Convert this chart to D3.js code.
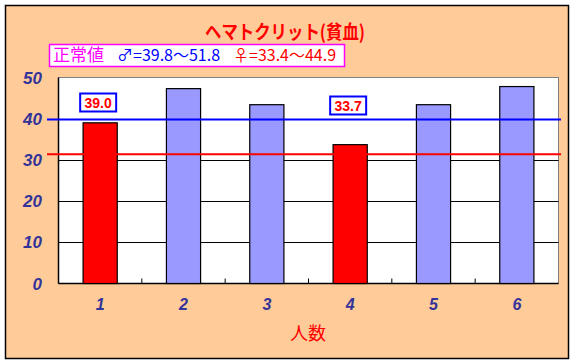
<!DOCTYPE html>
<html>
<head>
<meta charset="utf-8">
<script src="https://cdn.jsdelivr.net/npm/d3@7"></script>
<style>
  body { margin: 0; background: #fff; }
  svg { display: block; }
</style>
</head>
<body>
<div class="main"></div>
<script>
const w = 574, h = 364;

// data
const categories = ['1', '2', '3', '4', '5', '6'];
const values = [39.0, 47.3, 43.4, 33.7, 43.4, 47.8];
const sex = ['F', 'M', 'M', 'F', 'M', 'M'];
const valueLabels = ['39.0', '', '', '33.7', '', ''];
const yTicks = [0, 10, 20, 30, 40, 50];
const refValues = [39.8, 31.4];
const refColors = ['#0000ff', '#ff0000'];

const svg = d3.select('.main')
            .append('svg')
            .attr('width', w)
            .attr('height', h)

// background frame
svg.append('rect')
    .attr('x', 5.5).attr('y', 5.5)
    .attr('width', 563).attr('height', 353)
    .attr('fill', '#ffcc99')
    .attr('stroke', '#000')
    .attr('stroke-width', 1.5)

const pLeft = 58.5, pRight = 558.5, pTop = 77.5, pBottom = 283.5;

const x = d3.scaleBand()
            .domain(categories)
            .range([pLeft, pRight])
            .paddingInner(0.59)
            .paddingOuter(0.295)

const y = d3.scaleLinear()
            .domain([0, 50])
            .range([pBottom, pTop])

// plot area
svg.append('rect')
    .attr('x', pLeft).attr('y', pTop)
    .attr('width', pRight - pLeft).attr('height', pBottom - pTop)
    .attr('fill', '#fff')
    .attr('stroke', '#808080')

// gridlines
svg.append('g')
    .selectAll('line')
    .data(yTicks.filter(d => d > 0 && d < 50))
    .enter()
    .append('line')
    .attr('x1', pLeft).attr('x2', pRight)
    .attr('y1', d => Math.round(y(d)) + 0.5)
    .attr('y2', d => Math.round(y(d)) + 0.5)
    .attr('stroke', '#000')

// axis lines left and bottom
svg.append('line')
    .attr('x1', pLeft).attr('x2', pLeft)
    .attr('y1', pTop).attr('y2', pBottom)
    .attr('stroke', '#000').attr('stroke-width', 1.5)
svg.append('line')
    .attr('x1', pLeft).attr('x2', pRight)
    .attr('y1', pBottom).attr('y2', pBottom)
    .attr('stroke', '#000').attr('stroke-width', 1.5)

// ticks between categories
const step = x.step();
svg.append('g')
    .selectAll('line')
    .data(d3.range(1, categories.length))
    .enter()
    .append('line')
    .attr('x1', i => pLeft + i * step)
    .attr('x2', i => pLeft + i * step)
    .attr('y1', pBottom).attr('y2', pBottom - 5)
    .attr('stroke', '#000')

// bars
svg.append('g')
    .selectAll('rect')
    .data(values)
    .enter()
    .append('rect')
    .attr('x', (d, i) => x(categories[i]))
    .attr('y', d => y(d))
    .attr('width', x.bandwidth())
    .attr('height', d => pBottom - y(d))
    .attr('fill', (d, i) => sex[i] == 'F' ? '#ff0000' : '#9999ff')
    .attr('stroke', '#000')
    .attr('stroke-width', 1.2)

// reference lines
svg.append('g')
    .selectAll('line')
    .data(refValues)
    .enter()
    .append('line')
    .attr('x1', 47).attr('x2', 561)
    .attr('y1', d => y(d)).attr('y2', d => y(d))
    .attr('stroke', (d, i) => refColors[i])
    .attr('stroke-width', 2)

// value label boxes
const lab = svg.append('g')
            .selectAll('g')
            .data(valueLabels.map((t, i) => ({t, i})).filter(d => d.t))
            .enter()
            .append('g')
            .attr('transform', d => `translate(${x(categories[d.i]) + x.bandwidth() / 2 - 2}, ${d.i == 0 ? 102.5 : 105.5})`)
lab.append('rect')
    .attr('x', -18).attr('y', -9)
    .attr('width', 36).attr('height', 18)
    .attr('fill', '#fff')
    .attr('stroke', '#0000ff')
    .attr('stroke-width', 2)
lab.append('text')
    .attr('text-anchor', 'middle')
    .attr('y', 5)
    .attr('fill', '#ff0000')
    .style('font', 'bold 14px "Liberation Sans", sans-serif')
    .text(d => d.t)

// y labels
svg.append('g')
    .selectAll('text')
    .data(yTicks)
    .enter()
    .append('text')
    .attr('x', 42)
    .attr('y', d => y(d) + 6)
    .attr('text-anchor', 'end')
    .attr('fill', '#333399')
    .style('font', 'italic bold 17px "Liberation Sans", sans-serif')
    .text(d => d)

// x labels
svg.append('g')
    .selectAll('text')
    .data(categories)
    .enter()
    .append('text')
    .attr('x', d => x(d) + x.bandwidth() / 2)
    .attr('y', 310)
    .attr('text-anchor', 'middle')
    .attr('fill', '#333399')
    .style('font', 'italic bold 16px "Liberation Sans", sans-serif')
    .text(d => d)

// x title
svg.append('text')
    .attr('x', 308).attr('y', 340)
    .attr('text-anchor', 'middle')
    .attr('fill', '#ff0000')
    .style('font', '18px "Noto Sans CJK JP", sans-serif')
    .text('人数')

// title (squeezed to the reference width)
svg.append('text')
    .attr('x', 205).attr('y', 39)
    .attr('textLength', 160)
    .attr('lengthAdjust', 'spacingAndGlyphs')
    .attr('fill', '#ff0000')
    .style('font', 'bold 19px "Noto Sans CJK JP", sans-serif')
    .text('ヘマトクリット(貧血)')

// normal range box
svg.append('rect')
    .attr('x', 49.5).attr('y', 44.5)
    .attr('width', 295).attr('height', 22)
    .attr('fill', '#fff')
    .attr('stroke', '#ff00ff')
    .attr('stroke-width', 1.5)
const norm = svg.append('text')
            .attr('x', 53).attr('y', 61)
            .style('font', '16px "Noto Sans CJK JP", sans-serif')
norm.append('tspan').attr('fill', '#ff00ff').style('font-size', '17px').text('正常値')
norm.append('tspan').attr('fill', '#0000ff').attr('x', 117).text('♂=39.8〜51.8')
norm.append('tspan').attr('fill', '#ff0000').attr('x', 233).text('♀=33.4〜44.9')
</script>
</body>
</html>
